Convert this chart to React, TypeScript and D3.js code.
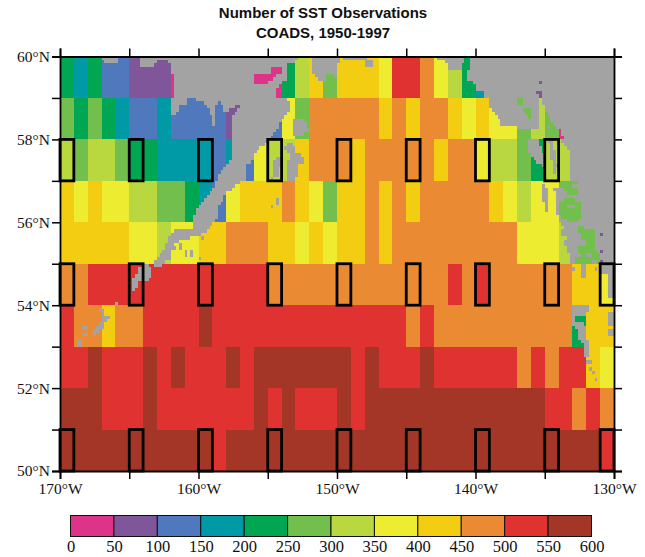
import React, { useEffect, useRef } from 'react';
import * as d3 from 'd3';

// class of each 1x1 degree box, west to east: 0 = 0-50 obs ... 11 = 550-600 obs
const row59 = [4,3,4,2,2,1,1,1,0,0,0,0,0,0,0,0,4,6,8,5,8,8,8,7,10,10,9,7,6,4,3,1,1,1,1,1,1,1,1,1];
const row58 = [5,4,5,4,3,2,2,3,2,2,2,2,1,1,2,2,7,5,9,9,9,9,9,8,9,8,9,9,8,7,8,7,7,5,6,5,0,5,5,5];
const row57 = [6,5,6,6,5,4,4,3,3,3,3,2,3,2,7,6,6,8,9,9,9,8,9,9,9,9,9,8,9,9,7,6,6,5,4,6,6,5,5,5];
const row56 = [8,7,8,7,7,6,6,5,5,4,3,2,7,8,8,8,9,8,7,5,8,8,9,8,9,8,9,9,9,9,9,8,7,6,7,7,5,5,5,2];
const row55 = [8,8,8,8,8,7,7,6,7,7,8,8,9,9,9,8,8,7,8,7,8,8,9,8,9,9,9,9,9,9,9,9,9,7,7,7,6,5,5,1];
const row54 = [9,9,10,10,10,10,10,10,10,10,10,10,10,10,10,9,9,9,9,9,9,9,9,9,9,9,9,9,10,9,10,9,9,9,9,9,9,8,8,7];
const row53 = [10,9,9,8,9,9,10,10,10,10,11,10,10,10,10,10,10,10,10,10,10,10,10,10,10,9,10,9,9,9,9,9,9,9,9,9,9,4,8,8];
const row52 = [10,10,11,10,10,10,11,10,11,10,10,10,11,10,11,11,11,11,11,11,11,10,11,10,10,10,11,10,10,10,10,10,10,9,10,9,10,10,8,7];
const row51 = [11,11,11,10,10,10,11,10,10,10,10,10,10,10,11,10,11,10,10,10,11,10,11,11,11,11,11,11,11,11,11,11,11,11,11,10,10,9,10,9];
const row50 = [11,11,11,11,11,11,11,11,11,11,11,10,11,11,11,11,11,11,11,11,11,11,11,11,11,11,11,11,11,11,11,11,11,11,11,11,11,11,11,10];
const rows = [row59, row58, row57, row56, row55, row54, row53, row52, row51, row50];

const classColors = ['#dd3388', '#80569a', '#5078bd', '#009aa6', '#00a651', '#72bf4e', '#b9d83f', '#eeec30', '#f2cd12', '#ea8a32', '#e03331', '#a43627'];
const classEdges = [0, 50, 100, 150, 200, 250, 300, 350, 400, 450, 500, 550, 600];

// boxes outlined in black: [northern edge, west longitudes]
const boxColsA = [170, 165, 160, 155, 150, 145, 140, 135];
const boxColsB = [170, 165, 160, 155, 150, 145, 140, 135, 131];
const boxRows: [number, number[]][] = [[58, boxColsA], [55, boxColsB], [51, boxColsB]];

const lonTicks = [170, 165, 160, 155, 150, 145, 140, 135, 130];
const latTicks = [60, 59, 58, 57, 56, 55, 54, 53, 52, 51, 50];
const titleLines = ['Number of SST Observations', 'COADS, 1950-1997'];

// coastline, [degrees west, degrees north]
const alaska = [[162.18,60],[162.06,59.72],[161.77,59.52],[161.7,59.08],[162,59],[162,58.6],[161.53,58.6],[161.29,58.84],[160.73,58.88],[160.69,59],[160.25,59],[160.25,58.88],[159.53,58.88],[159.17,58.67],[158.93,58.33],[158.74,58.51],[158.81,58.76],[158.45,58.96],[158.09,58.67],[157,58.84],[157.61,58.51],[157.68,58.01],[157.68,57.51],[158.21,57.31],[158.69,57.03],[158.81,56.83],[159.65,56.55],[160.13,56.31],[160.42,56.06],[160.49,55.82],[161.82,55.82],[162.18,55.58],[162.54,55.34],[163.02,55.14],[163.19,54.94],[162.54,54.94],[161.94,55.26],[161.7,55.5],[160.61,55.62],[160.13,55.66],[159.3,55.82],[158.69,56.06],[158.57,56.39],[157.97,56.71],[157.61,56.79],[156.88,57.03],[156.65,57.03],[156.52,57.39],[156.04,57.47],[155.8,57.75],[155.08,57.91],[154.72,58.03],[154.12,58.39],[153.4,58.71],[153.4,58.92],[153.75,59],[154.07,59],[154.07,59.36],[153.69,59.44],[153.52,59.8],[153.04,59.82],[152.79,60]];
const panhandle = [[140.38,60],[140.52,59.6],[140.52,59.42],[140.07,59.34],[140,59.2],[139.47,59.18],[139.42,59.01],[139.11,59],[138.87,58.71],[138.39,58.51],[138.03,58.31],[136.91,58.29],[133.9,58.27],[133.9,58],[133.2,57.75],[133.13,57.02],[133.9,56.82],[134.33,56.82],[134.14,56.18],[133.9,55.97],[133.37,55.81],[133.54,55.49],[133.3,55.29],[133.13,54.98],[130,54.98],[130,60]];
const islands = [
  [[167.04,60],[165.72,60],[165.72,59.84],[166.75,59.82]],
  [[164.22,60],[162.18,60],[162.18,59.92],[162.83,59.9],[163.26,59.76],[164.1,59.76]],
  [[153.15,58.47],[152.43,58.47],[151.95,58.19],[152.67,58.07],[153.15,58.07]],
  [[153.87,57.83],[153.15,57.95],[153.03,57.67],[152.31,57.59],[152.31,57.43],[152.79,57.39],[152.91,57.03],[153.51,57.03],[153.63,57.31],[153.4,57.59]],
  [[154.72,57.03],[154.6,57.51],[154.07,57.59],[154.12,57.11]],
  [[151.9,60],[149.78,60],[149.78,59.82],[149.98,59.82],[149.98,59.44],[150.27,59.6],[150.75,59.6],[150.99,59.37],[151.47,59.48],[151.59,59.6],[151.83,59.6],[151.71,59.76]],
  [[142.96,60],[140.8,60],[140.8,59.92],[140.98,59.74],[141.21,59.64],[142,59.64],[142,59.74],[142.31,59.92],[142.84,59.92]],
  [[136.31,57.99],[135.46,57.99],[135.1,57.67],[135.1,57.36],[135.46,57.43],[136.1,57.63],[136.19,57.75]],
  [[134.74,57.99],[134.42,57.99],[134.09,57.43],[134.13,57.04],[134.38,57.18],[134.5,57.51]],
  [[135.3,56.98],[134.86,56.82],[134.74,56.23],[134.91,56.23],[135.1,56.54]],
  [[163.74,54.98],[163.45,54.94],[163.38,54.69],[163.86,54.57],[164.22,54.61],[164.71,54.33],[164.9,54.37],[164.83,54.61],[164.46,54.81],[164.22,54.91],[163.94,54.97]],
  [[167.11,53.9],[166.87,53.9],[166.82,53.76],[166.34,53.79],[166.34,53.68],[166.75,53.6],[166.87,53.4],[167.35,53.36],[167.47,53.28],[167.83,53.32],[167.47,53.44],[167.06,53.56]],
  [[133.06,53.98],[131.85,53.98],[131.85,53.84],[132.17,53.76],[132.02,53.16],[131.73,53.08],[131.73,52.76],[132.17,52.73],[132.26,53.08],[132.58,53.16],[132.58,53.44],[132.98,53.48],[133.06,53.72]],
];
// small specks: [west, north, east, south]
const specks = [
  [149.54,59.92,147.86,60],[147.98,59.76,147.5,59.92],
  [154.72,56.33,154.6,56.43],[154.48,56.43,154.16,56.59],
  [166.03,53.98,165.86,54.08],[165.48,53.98,165.31,54.08],
  [168.32,53.4,167.95,53.5],[168.44,53.24,168.07,53.36],[168.75,52.99,168.44,53.17],
  [161.77,55.31,161.62,55.41],[161.46,55.31,161.14,55.49],[160.9,55.13,160.73,55.33],[160.61,55.13,160.47,55.33],
  [160.04,55.06,159.89,55.15],[159.7,55.57,159.58,55.67],[161.1,55.69,160.95,55.83],[160.83,55.69,160.69,55.83],
  [160.57,55.65,160.13,55.73],[162.3,55.09,162.01,55.23],[163.26,54.91,163.09,55.05],
  [133.06,54.83,132.82,54.91],[132.34,54.67,132.1,54.97],[131.44,54.83,131.3,54.91],
  [130.96,54.73,130,54.97],[130.34,54.16,130.1,54.73],
  [131.97,52.56,131.69,52.66],[131.73,52.39,131.61,52.47],[131.54,52.31,131.37,52.41],[131.44,52.15,131.25,52.25],
  [130.42,53.48,130.06,53.84],[130.34,53.28,130.06,53.4],
  [133.3,56.3,132.82,56.42],[132.58,55.45,132.1,55.57],[132.82,55.13,132.34,55.29],
  [132.9,56.85,132.7,56.95],[132.1,55.84,131.9,55.95],[131.9,55.55,131.7,55.62],[131.9,55.15,131.7,55.25],
  [133.7,55.7,133.5,55.8],[131.5,55.0,131.3,55.1],
];
// sea showing through the land
const inlets = [
  [[156.04,59.56],[154.84,59.6],[154.72,59.72],[154,59.74],[154.07,59.6],[154.6,59.48],[155.44,59.29],[156.04,59.32]],
  [[154.31,59.24],[154.07,59.36],[154.07,59],[154.31,59]],
  [[135.46,58.99],[135.22,58.99],[134.86,58.59],[134.74,58.28],[135.46,58.28],[135.34,58.63]],
  [[135.58,59.2],[135.22,59.2],[135.22,58.99],[135.46,58.99]],
  [[135.4,59.41],[135.28,59.41],[135.28,59.36],[135.4,59.36]],
  [[136.98,58.99],[136.67,58.99],[136.67,58.83],[136.98,58.83]],
  [[136.67,58.75],[136.07,58.71],[135.95,58.47],[136.19,58.47],[136.31,58.59]],
  [[135.06,58.67],[134.89,58.67],[134.2,58.29],[134.62,58.28]],
  [[133.78,58.08],[133.68,58.08],[133.68,57.99],[133.78,57.99]],
  [[133.66,56.98],[132.7,56.98],[132.58,56.7],[133.18,56.66],[133.66,56.78]],
  [[134,56.52],[133.06,56.58],[132.46,56.5],[132.34,56.18],[132.58,56],[133.3,56.04],[133.9,56.14]],
  [[132.82,55.97],[131.49,55.81],[131.44,55.45],[131.06,55.21],[131.06,54.98],[132.94,54.98],[132.58,55.37],[132.41,55.65]],
  [[132.74,53.72],[132.17,53.72],[132.17,53.56],[132.74,53.56]],
  [[130.98,56.04],[130.9,56.04],[130.9,55.98],[130.98,55.98]],
  [[130.98,55.76],[130.9,55.76],[130.9,55.68],[130.98,55.68]],
  [[131,55.31],[130.76,55.31],[130.76,55.23],[131,55.23]],
  [[130.98,55.05],[130.9,55.05],[130.9,55],[130.98,55]],
];

const landStepLon = 0.2;
const landStepLat = 1 / 12;

const isLand = (lonW: number, lat: number) => {
  const p: [number, number] = [lonW, lat];
  if (specks.some((s) => lonW <= s[0] && lonW >= s[2] && lat >= Math.min(s[1], s[3]) && lat <= Math.max(s[1], s[3]))) return true;
  if (inlets.some((h) => d3.polygonContains(h as any, p))) return false;
  if (d3.polygonContains(alaska as any, p) || d3.polygonContains(panhandle as any, p)) return true;
  return islands.some((h) => d3.polygonContains(h as any, p));
};

// land raster as horizontal runs, like the 5-minute mask of the original
const landRuns = () => {
  const runs: { west: number; east: number; north: number }[] = [];
  for (let j = 0; j < 120; j++) {
    const north = 60 - j * landStepLat;
    let start = -1;
    for (let i = 0; i <= 200; i++) {
      const on = i < 200 && isLand(170 - (i + 0.5) * landStepLon, north - landStepLat / 2);
      if (on && start < 0) start = i;
      if (!on && start >= 0) {
        runs.push({ west: 170 - start * landStepLon, east: 170 - i * landStepLon, north });
        start = -1;
      }
    }
  }
  return runs;
};

const App = () => {
  const ref = useRef<SVGSVGElement>(null);

  useEffect(() => {
    const svg = d3.select(ref.current);
    svg.selectAll('*').remove();

    const x = d3.scaleLinear().domain([170, 130]).range([60, 614]);
    const y = d3.scaleLinear().domain([60, 50]).range([56.5, 471]);
    const serif = '"Liberation Serif", serif';

    // observation boxes
    const cells = rows.flatMap((row, r) => row.map((c, i) => ({ north: 60 - r, west: 170 - i, c })));
    svg.append('g').selectAll('rect').data(cells).enter().append('rect')
      .attr('x', (d) => x(d.west))
      .attr('y', (d) => y(d.north))
      .attr('width', (d) => x(d.west - 1) - x(d.west))
      .attr('height', (d) => y(d.north - 1) - y(d.north))
      .attr('fill', (d) => classColors[d.c])
      .attr('shape-rendering', 'crispEdges');

    svg.append('g').selectAll('rect').data(landRuns()).enter().append('rect')
      .attr('x', (d) => x(d.west))
      .attr('y', (d) => y(d.north))
      .attr('width', (d) => x(d.east) - x(d.west))
      .attr('height', y(60 - landStepLat) - y(60))
      .attr('fill', '#a3a3a3')
      .attr('shape-rendering', 'crispEdges');

    // black outlines
    const boxes = boxRows.flatMap(([north, cols]) => cols.map((west) => ({ north, west })));
    svg.append('g').selectAll('rect').data(boxes).enter().append('rect')
      .attr('x', (d) => x(d.west))
      .attr('y', (d) => y(d.north))
      .attr('width', (d) => x(d.west - 1) - x(d.west))
      .attr('height', (d) => y(d.north - 1) - y(d.north))
      .attr('fill', 'none')
      .attr('stroke', '#000')
      .attr('stroke-width', 2.8);

    // axes
    const axes = svg.append('g');
    const lonFmt = (d: any) => (d % 10 === 0 ? `${d}°W` : '');
    const latFmt = (d: any) => (d % 2 === 0 ? `${d}°N` : '');
    axes.append('g').attr('transform', `translate(0,${y(50)})`)
      .call(d3.axisBottom(x).tickValues(lonTicks).tickSize(8).tickPadding(4).tickFormat(lonFmt));
    axes.append('g').attr('transform', `translate(0,${y(60)})`)
      .call(d3.axisTop(x).tickValues(lonTicks).tickSize(8).tickFormat(() => ''));
    axes.append('g').attr('transform', `translate(${x(170)},0)`)
      .call(d3.axisLeft(y).tickValues(latTicks).tickSize(8).tickPadding(2).tickFormat(latFmt));
    axes.append('g').attr('transform', `translate(${x(130)},0)`)
      .call(d3.axisRight(y).tickValues(latTicks).tickSize(8).tickFormat(() => ''));
    axes.selectAll('.domain').attr('stroke', '#000').attr('stroke-width', 1.8);
    axes.selectAll('.tick line').attr('stroke', '#000').attr('stroke-width', 1.5);
    axes.selectAll('text').attr('font-family', serif).attr('font-size', 15.5).attr('fill', '#111');

    // colour bar
    const bar = d3.scaleLinear().domain([0, 600]).range([70.5, 591.5]);
    const barG = svg.append('g');
    barG.selectAll('rect').data(classColors).enter().append('rect')
      .attr('x', (_, i) => bar(classEdges[i]))
      .attr('y', 515.5)
      .attr('width', (_, i) => bar(classEdges[i + 1]) - bar(classEdges[i]))
      .attr('height', 21)
      .attr('fill', (d) => d)
      .attr('stroke', '#111')
      .attr('stroke-width', 1);
    const barAxis = barG.append('g').attr('transform', 'translate(0,536.5)')
      .call(d3.axisBottom(bar).tickValues(classEdges).tickSize(0).tickPadding(4).tickFormat((d: any) => `${d}`));
    barAxis.select('.domain').remove();
    barAxis.selectAll('text').attr('font-family', serif).attr('font-size', 16.5).attr('fill', '#111');

    // title
    svg.append('g').selectAll('text').data(titleLines).enter().append('text')
      .attr('x', 323)
      .attr('y', (_, i) => 18 + i * 20)
      .attr('text-anchor', 'middle')
      .attr('font-family', '"Liberation Sans", Arial, sans-serif')
      .attr('font-weight', 'bold')
      .attr('font-size', 15)
      .attr('fill', '#111')
      .text((d) => d);
  }, []);

  return <svg ref={ref} width={645} height={557} style={{ position: 'absolute', left: 0, top: 0, background: '#fff' }} />;
};

export default App;
